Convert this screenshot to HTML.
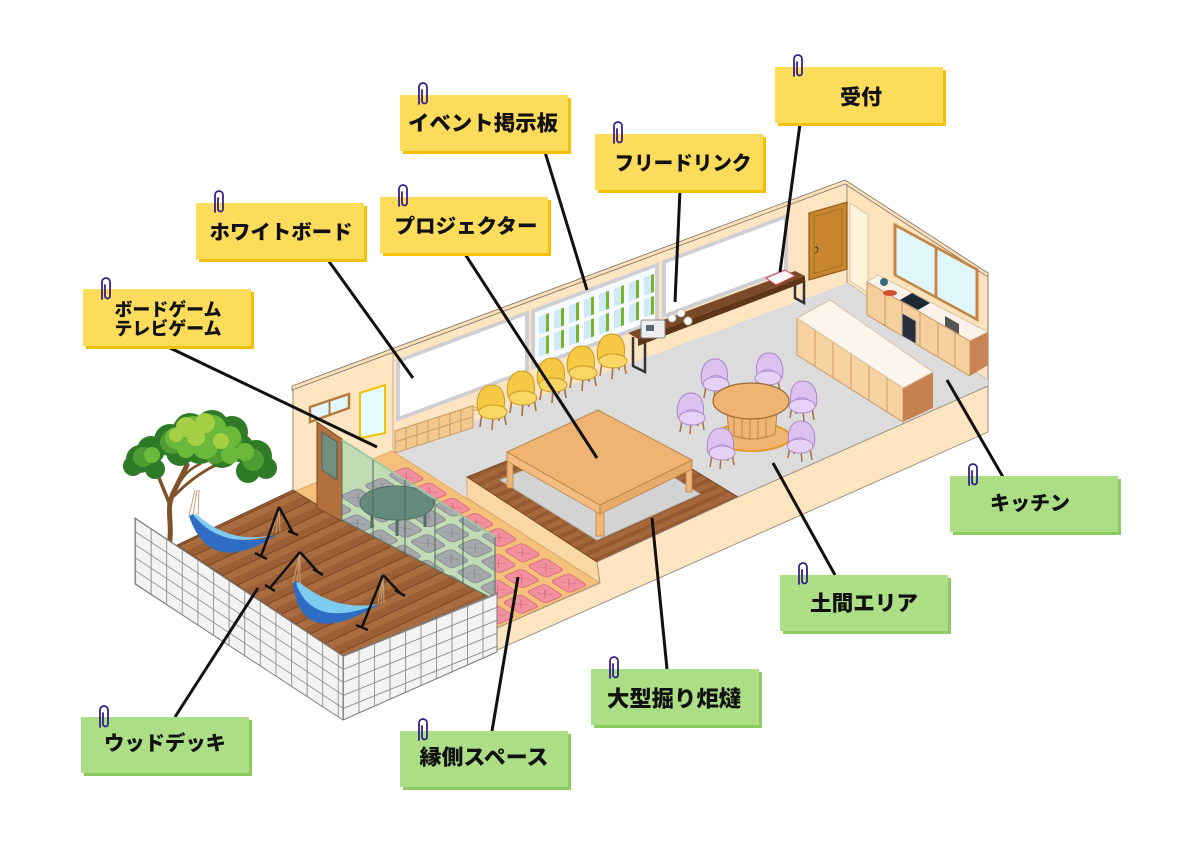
<!DOCTYPE html>
<html><head><meta charset="utf-8">
<style>
html,body{margin:0;padding:0;background:#fff;}
svg{display:block;}
text{font-family:"Liberation Sans","Noto Sans CJK JP",sans-serif;font-weight:900;fill:#111;}
</style></head><body>
<svg width="1200" height="845" viewBox="0 0 1200 845" xmlns="http://www.w3.org/2000/svg">
<defs>
<pattern id="deckP" patternUnits="userSpaceOnUse" width="300" height="15" patternTransform="rotate(-25)">
<rect width="300" height="15" fill="#a96c3e"/><rect y="8" width="300" height="7" fill="#9c5f35"/><rect width="300" height="1" fill="#7a4524"/>
</pattern>
<pattern id="woodP" patternUnits="userSpaceOnUse" width="300" height="9" patternTransform="rotate(-24)">
<rect width="300" height="9" fill="#a5683b"/><rect y="5" width="300" height="4" fill="#955a31"/>
</pattern>
<pattern id="gridL" patternUnits="userSpaceOnUse" width="15.6" height="13" patternTransform="translate(135,518) skewY(33.5)">
<rect width="15.6" height="13" fill="#f3f3f3"/><path d="M0 0.5H15.6M0.5 0V13" stroke="#8d8d8d" stroke-width="0.9"/>
</pattern>
<pattern id="gridR" patternUnits="userSpaceOnUse" width="15.5" height="13" patternTransform="translate(343,656) skewY(-22)">
<rect width="15.5" height="13" fill="#f3f3f3"/><path d="M0 0.5H15.5M0.5 0V13" stroke="#8d8d8d" stroke-width="0.9"/>
</pattern>
<clipPath id="glassClip"><polygon points="342,440 495,537 495,600 342,520"/></clipPath>
<g id="cushions">
<rect x="3" y="3" width="18" height="18" rx="3"/><rect x="3" y="26" width="18" height="18" rx="3"/><rect x="3" y="49" width="18" height="18" rx="3"/><rect x="3" y="72" width="18" height="18" rx="3"/><rect x="3" y="95" width="18" height="18" rx="3"/><rect x="3" y="118" width="18" height="18" rx="3"/><rect x="3" y="141" width="18" height="18" rx="3"/><rect x="3" y="164" width="18" height="18" rx="3"/>
<rect x="27" y="3" width="18" height="18" rx="3"/><rect x="27" y="26" width="18" height="18" rx="3"/><rect x="27" y="49" width="18" height="18" rx="3"/><rect x="27" y="72" width="18" height="18" rx="3"/><rect x="27" y="95" width="18" height="18" rx="3"/><rect x="27" y="118" width="18" height="18" rx="3"/><rect x="27" y="141" width="18" height="18" rx="3"/><rect x="27" y="164" width="18" height="18" rx="3"/>
<rect x="51" y="3" width="18" height="18" rx="3"/><rect x="51" y="26" width="18" height="18" rx="3"/><rect x="51" y="49" width="18" height="18" rx="3"/><rect x="51" y="72" width="18" height="18" rx="3"/><rect x="51" y="95" width="18" height="18" rx="3"/><rect x="51" y="118" width="18" height="18" rx="3"/><rect x="51" y="141" width="18" height="18" rx="3"/><rect x="51" y="164" width="18" height="18" rx="3"/>
<rect x="75" y="3" width="18" height="18" rx="3"/><rect x="75" y="26" width="18" height="18" rx="3"/><rect x="75" y="49" width="18" height="18" rx="3"/><rect x="75" y="72" width="18" height="18" rx="3"/><rect x="75" y="95" width="18" height="18" rx="3"/><rect x="75" y="118" width="18" height="18" rx="3"/><rect x="75" y="141" width="18" height="18" rx="3"/><rect x="75" y="164" width="18" height="18" rx="3"/>
<path fill="none" stroke-width="0.8" d="M8 8l8 8m0-8l-8 8M8 31l8 8m0-8l-8 8M8 54l8 8m0-8l-8 8M8 77l8 8m0-8l-8 8M8 100l8 8m0-8l-8 8M8 123l8 8m0-8l-8 8M8 146l8 8m0-8l-8 8M8 169l8 8m0-8l-8 8M32 8l8 8m0-8l-8 8M32 31l8 8m0-8l-8 8M32 54l8 8m0-8l-8 8M32 77l8 8m0-8l-8 8M32 100l8 8m0-8l-8 8M32 123l8 8m0-8l-8 8M32 146l8 8m0-8l-8 8M32 169l8 8m0-8l-8 8M56 8l8 8m0-8l-8 8M56 31l8 8m0-8l-8 8M56 54l8 8m0-8l-8 8M56 77l8 8m0-8l-8 8M56 100l8 8m0-8l-8 8M56 123l8 8m0-8l-8 8M56 146l8 8m0-8l-8 8M56 169l8 8m0-8l-8 8M80 8l8 8m0-8l-8 8M80 31l8 8m0-8l-8 8M80 54l8 8m0-8l-8 8M80 77l8 8m0-8l-8 8M80 100l8 8m0-8l-8 8M80 123l8 8m0-8l-8 8M80 146l8 8m0-8l-8 8M80 169l8 8m0-8l-8 8"/>
</g>
<g id="yc">
<path d="M-11 8L-13 22M11 7L13 20M0 11L-1 25M5 4L6 16" stroke="#a8713f" stroke-width="1.6" fill="none"/>
<path d="M-15 6C-18 -8 -12 -20 -1 -20C9 -20 13 -10 11 3Z" fill="#f6c944" stroke="#c99a26"/>
<ellipse cx="0" cy="7" rx="14" ry="7" fill="#f9d764" stroke="#c99a26"/>
</g>
<g id="pc">
<path d="M-10 8L-12 20M10 6L12 18M-1 10L-2 22M5 4L6 14" stroke="#a7703f" stroke-width="1.5" fill="none"/>
<path d="M-14 6C-17 -8 -11 -19 -1 -19C9 -19 13 -9 11 3Z" fill="#dcc1f1" stroke="#a988c8"/>
<ellipse cx="0" cy="6" rx="13" ry="7" fill="#e6d2f7" stroke="#a988c8"/>
<path d="M-8 1Q-2 -5 6 -1" stroke="#b99ad8" fill="none"/>
</g>
<g id="pclip"><path d="M-4 21V4A4 4 0 0 1 4 4V18A2.5 2.5 0 0 1 -1 18V7" stroke="#35208a" stroke-width="1.8" fill="none" stroke-linecap="round"/></g>
</defs>

<!-- back wall & right wall -->
<polygon points="292,390 845,184 848,284 392,452 300,492 292,492" fill="#fde5c2"/>
<polygon points="845,184 988,277 988,380 848,283" fill="#fde3bd"/>
<g transform="translate(850,203) skewY(33)"><rect width="18" height="78" fill="#fff3da" stroke="#c9b89a" stroke-width="0.8"/></g>
<polygon points="292,386 845,180 988,273 988,277 845,184 292,390" fill="#fbe1b9" stroke="#857a6e" stroke-width="0.9"/>
<line x1="293" y1="390" x2="293" y2="492" stroke="#9b8f80" stroke-width="1"/>
<line x1="393" y1="353" x2="393" y2="450" stroke="#c9b08c" stroke-width="1"/>
<line x1="847" y1="184" x2="847" y2="283" stroke="#9b8f80" stroke-width="1"/>
<line x1="988" y1="277" x2="988" y2="432" stroke="#857a6e" stroke-width="1"/>

<!-- wall panels -->
<g transform="translate(398,361) skewY(-20.43)"><rect width="129" height="58" fill="#ffffff" stroke="#cfcfd3" stroke-width="4"/></g>
<g transform="translate(533,311) skewY(-20.43)"><rect width="124" height="56" fill="#f6fbfe" stroke="#cfcfd3" stroke-width="4"/>
<g fill="#cfe9f8">
<rect x="6" y="8" width="9" height="18"/><rect x="21" y="8" width="9" height="18"/><rect x="36" y="8" width="9" height="18"/><rect x="51" y="8" width="9" height="18"/><rect x="66" y="8" width="9" height="18"/><rect x="81" y="8" width="9" height="18"/><rect x="96" y="8" width="9" height="18"/><rect x="111" y="8" width="9" height="18"/>
<rect x="6" y="30" width="9" height="18"/><rect x="21" y="30" width="9" height="18"/><rect x="36" y="30" width="9" height="18"/><rect x="51" y="30" width="9" height="18"/><rect x="66" y="30" width="9" height="18"/><rect x="81" y="30" width="9" height="18"/><rect x="96" y="30" width="9" height="18"/><rect x="111" y="30" width="9" height="18"/>
</g>
<g fill="#79b32e">
<rect x="13" y="8" width="3" height="18"/><rect x="28" y="8" width="3" height="18"/><rect x="43" y="8" width="3" height="18"/><rect x="58" y="8" width="3" height="18"/><rect x="73" y="8" width="3" height="18"/><rect x="88" y="8" width="3" height="18"/><rect x="103" y="8" width="3" height="18"/><rect x="118" y="8" width="3" height="18"/>
<rect x="13" y="30" width="3" height="18"/><rect x="28" y="30" width="3" height="18"/><rect x="43" y="30" width="3" height="18"/><rect x="58" y="30" width="3" height="18"/><rect x="73" y="30" width="3" height="18"/><rect x="88" y="30" width="3" height="18"/><rect x="103" y="30" width="3" height="18"/><rect x="118" y="30" width="3" height="18"/>
</g></g>
<g transform="translate(664,262) skewY(-20.43)"><rect width="122" height="54" fill="#ffffff" stroke="#cfcfd3" stroke-width="4"/></g>

<!-- back door -->
<g transform="translate(809,213) skewY(-16)"><rect width="38" height="67" fill="#c9862f" stroke="#8c5a1c" stroke-width="1.2"/><rect x="5" y="5" width="28" height="57" fill="none" stroke="#a86c22" stroke-width="1"/><path d="M6 36a3 3 0 0 1 0 6" stroke="#6a4010" fill="none" stroke-width="1.2"/></g>
<!-- kitchen window -->
<g transform="translate(895,225) skewY(28.5)"><rect width="82" height="50" fill="#dff7fa" stroke="#c28745" stroke-width="3"/><line x1="41" y1="0" x2="41" y2="50" stroke="#c28745" stroke-width="3"/></g>

<!-- floor -->
<polygon points="392,451 848,283 988,380 988,386 597,562 467,497" fill="#dcdcdc"/>
<line x1="848" y1="283" x2="988" y2="380" stroke="#c8c2b6" stroke-width="1"/>

<!-- engawa -->
<polygon points="293,492 392,451 600,582 497,628" fill="#f5c07a" stroke="#d9a461" stroke-width="0.8"/>
<use href="#cushions" transform="matrix(1,-0.44,-1.01,-0.66,497,628)" fill="#f1919e" stroke="#dc6f80" stroke-width="1"/>

<!-- horigotatsu platform -->
<polygon points="467,477 597,562 600,583 467,498" fill="#fbd7a3" stroke="#c9a06a" stroke-width="0.8"/>
<polygon points="467,477 610,419 738,497 597,562" fill="url(#woodP)" stroke="#6d3f1e" stroke-width="0.8"/>
<polygon points="500,480 608,436 700,494 597,540" fill="#d3d3d3" stroke="#b5b5b5"/>
<rect x="507" y="455" width="6" height="33" fill="#efb676" stroke="#b9864c" stroke-width="0.8"/>
<rect x="596" y="506" width="8" height="30" fill="#efb676" stroke="#b9864c" stroke-width="0.8"/>
<rect x="686" y="462" width="6" height="30" fill="#efb676" stroke="#b9864c" stroke-width="0.8"/>
<polygon points="507,452 600,505 600,514 507,461" fill="#f3bd80" stroke="#b9864c" stroke-width="0.8"/>
<polygon points="600,505 692,460 692,469 600,514" fill="#e7aa68" stroke="#b9864c" stroke-width="0.8"/>
<polygon points="507,452 598,410 692,460 600,505" fill="#f0b472" stroke="#b9864c" stroke-width="1"/>

<!-- shelf -->
<polygon points="395,431 473,406 479,409 401,434" fill="#f7d7a6" stroke="#c9985c" stroke-width="0.8"/>
<g transform="translate(395,431) skewY(-18)"><rect width="78" height="22" fill="#f3c98e" stroke="#c9985c" stroke-width="1"/><path d="M11 0V22M22 0V22M33 0V22M44 0V22M55 0V22M66 0V22M0 11H78" stroke="#c9985c" stroke-width="0.9"/></g>

<!-- yellow chairs -->
<use href="#yc" x="493" y="405"/><use href="#yc" x="523" y="391"/><use href="#yc" x="553" y="378"/><use href="#yc" x="583" y="366"/><use href="#yc" x="613" y="354"/>

<!-- reception -->
<path d="M633 337V366L645 372V343" stroke="#333" stroke-width="2.5" fill="none"/>
<path d="M795 275V298L804 303V280" stroke="#333" stroke-width="2.5" fill="none"/>
<polygon points="628,333 795,271 805,276 638,339" fill="#7b4a28"/>
<polygon points="638,339 805,276 805,282 638,346" fill="#5e3519"/>
<rect x="641" y="320" width="24" height="18" rx="2" fill="#eeeeee" stroke="#8a8a8a"/><rect x="646" y="325" width="8" height="6" fill="#567"/>
<circle cx="672" cy="318" r="4" fill="#fafafa" stroke="#bbb"/><circle cx="681" cy="313" r="4" fill="#fafafa" stroke="#bbb"/><circle cx="688" cy="321" r="4" fill="#fafafa" stroke="#bbb"/>
<polygon points="766,278 785,270 795,276 776,285" fill="#fff" stroke="#d04050"/>

<!-- kitchen counter -->
<polygon points="867,282 878,275 988,332 970,341" fill="#fbf3ea" stroke="#d7c4a8"/>
<polygon points="867,282 970,341 970,376 867,315" fill="#f5cf9c" stroke="#c9965e"/>
<polygon points="970,341 988,332 988,365 970,376" fill="#c98455"/>
<path d="M885 292V326M902 302V336M920 312V346M938 323V357M955 332V367" stroke="#c9965e" stroke-width="0.9"/>
<polygon points="900,300 912,293 930,303 918,310" fill="#1e2a33"/>
<polygon points="902,313 916,321 916,344 902,336" fill="#2b2d3a" stroke="#bbb"/>
<ellipse cx="890" cy="293" rx="7" ry="3" fill="#d05030"/><circle cx="884" cy="282" r="4" fill="#3a6a80"/>
<polygon points="945,316 959,324 959,334 945,326" fill="#555"/>

<!-- island -->
<polygon points="797,318 903,388 903,422 797,355" fill="#f6d3a0" stroke="#c99a64"/>
<path d="M815 330V366M833 342V378M851 354V389M869 366V400M887 377V412" stroke="#c99a64" stroke-width="0.9"/>
<polygon points="903,388 933,372 933,408 903,422" fill="#c8804f"/>
<polygon points="797,318 830,300 933,372 903,388" fill="#fcf5ec" stroke="#d8c2a5"/>

<!-- round table & chairs -->
<use href="#pc" x="716" y="378"/>
<use href="#pc" transform="translate(768,372) scale(-1,1)"/>
<use href="#pc" x="692" y="412"/>
<use href="#pc" transform="translate(802,400) scale(-1,1)"/>
<ellipse cx="752" cy="437" rx="38" ry="14" fill="#f0b472" stroke="#e59a2a" stroke-width="2"/>
<path d="M726 403L729 434Q752 444 775 434L778 403Z" fill="#f0b472" stroke="#b9864c"/>
<path d="M734 410V436M742 412V439M750 412V440M758 412V440M766 411V438" stroke="#b9864c" stroke-width="0.9"/>
<ellipse cx="751" cy="401" rx="38" ry="18" fill="#f0b472" stroke="#9c6a36" stroke-width="1.2"/>
<use href="#pc" x="722" y="447"/>
<use href="#pc" transform="translate(800,440) scale(-1,1)"/>

<!-- front face -->
<polygon points="497,628 600,583 597,562 738,497 988,386 988,432 497,650" fill="#fde5c1" stroke="#958a7c" stroke-width="0.9"/>

<!-- left wall items -->
<polygon points="310,407 349,394 349,408 310,422" fill="#e2f7fb" stroke="#b57a3e" stroke-width="2.5"/>
<line x1="329.5" y1="400.5" x2="329.5" y2="415" stroke="#b57a3e" stroke-width="2"/>
<polygon points="360,393 385,385 385,433 360,438" fill="#e6fbff" stroke="#f0c400" stroke-width="2"/>

<!-- deck -->
<polygon points="177,545 293,490 342,520 497,600 497,593 343,656" fill="url(#deckP)" stroke="#6d3f1e" stroke-width="0.8"/>
<!-- left door -->
<polygon points="317,422 342,439 342,521 317,508" fill="#b3703e" stroke="#7c4a24"/>
<polygon points="322,432 337,442 337,480 322,470" fill="#6f8f81" stroke="#4d5f55"/>

<!-- glass partition -->
<g clip-path="url(#glassClip)">
<rect x="330" y="430" width="180" height="180" fill="#c1dcb4"/>
<use href="#cushions" transform="matrix(1,-0.44,-1.01,-0.66,497,628)" fill="#a4a8ab" stroke="#8a8e92" stroke-width="1"/>
<path d="M372 510V528M397 518V536M425 510V527" stroke="#4f7064" stroke-width="3"/>
<ellipse cx="397" cy="503" rx="37" ry="17" fill="#648a7e" stroke="#4f7064"/>
</g>
<polygon points="342,440 495,537 495,600 342,520" fill="none" stroke="#55725f" stroke-width="1"/>
<line x1="342" y1="440" x2="495" y2="537" stroke="#9cc7a4" stroke-width="2"/>
<path d="M373 460V536M405 480V553M435 499V569M463 517V583" stroke="#4f6b5b" stroke-width="1"/>

<!-- tree -->
<g stroke="#7e5127" fill="none" stroke-linecap="round">
<path d="M169,546C173,525 166,510 172,496C176,486 182,476 187,465" stroke-width="5"/>
<path d="M170,505C164,490 158,476 153,462" stroke-width="3.5"/>
<path d="M174,496C186,484 196,476 210,468C222,462 232,458 240,456" stroke-width="3"/>
<path d="M180,482C186,472 192,468 200,464" stroke-width="2.5"/>
</g>
<g fill="#2f7a26">
<circle cx="140" cy="459" r="14"/><circle cx="133" cy="466" r="10"/><circle cx="151" cy="450" r="14"/><circle cx="155" cy="469" r="10"/>
<circle cx="256" cy="456" r="16"/><circle cx="266" cy="468" r="11"/><circle cx="248" cy="471" r="12"/><circle cx="240" cy="448" r="14"/>
<circle cx="170" cy="440" r="16"/><circle cx="190" cy="430" r="17"/><circle cx="212" cy="427" r="17"/><circle cx="232" cy="432" r="16"/><circle cx="200" cy="446" r="18"/><circle cx="180" cy="452" r="14"/><circle cx="222" cy="452" r="16"/>
</g>
<g fill="#4f9d32">
<circle cx="143" cy="457" r="10"/><circle cx="253" cy="460" r="11"/><circle cx="172" cy="442" r="12"/><circle cx="230" cy="440" r="12"/><circle cx="215" cy="452" r="12"/>
</g>
<g fill="#6cb83a">
<circle cx="176" cy="438" r="11"/><circle cx="193" cy="429" r="13"/><circle cx="213" cy="428" r="13"/><circle cx="230" cy="437" r="11"/><circle cx="205" cy="446" r="13"/><circle cx="186" cy="449" r="9"/><circle cx="245" cy="452" r="9"/><circle cx="152" cy="455" r="8"/><circle cx="230" cy="455" r="9"/>
</g>
<g fill="#a5cf45">
<circle cx="186" cy="427" r="10"/><circle cx="205" cy="423" r="10"/><circle cx="196" cy="437" r="9"/><circle cx="221" cy="441" r="8"/><circle cx="176" cy="435" r="7"/>
</g>

<!-- hammocks -->
<path d="M195,490L189,516M197,490L193,516M199,490L198,515" stroke="#c9a07a" stroke-width="1"/>
<path d="M279,507L272,532M279,507L276,533M279,507L280,532" stroke="#c9a07a" stroke-width="1"/>
<path d="M189,516Q210,578 277,535Q228,552 193,514Z" fill="#2f6cc4"/>
<path d="M193,515Q224,552 275,534Q232,546 196,514Z" fill="#7dcbef"/>
<path d="M279,507L261,556M279,507L293,533M255,553L267,559M288,531L298,535" stroke="#111" stroke-width="2.5" fill="none"/>
<path d="M300,552L293,583M300,552L297,584M300,552L300,583" stroke="#c9a07a" stroke-width="1"/>
<path d="M383,575L378,603M383,575L381,604M383,575L384,603" stroke="#c9a07a" stroke-width="1"/>
<path d="M293,583Q300,652 380,604Q335,618 297,581Z" fill="#2f6cc4"/>
<path d="M296,583Q312,630 378,604Q336,612 299,582Z" fill="#7dcbef"/>
<path d="M300,552L270,588M300,552L318,572M265,585L275,591M313,569L323,575" stroke="#111" stroke-width="2.5" fill="none"/>
<path d="M383,575L362,627M383,575L400,593M356,625L368,630M395,590L405,596" stroke="#111" stroke-width="2.5" fill="none"/>

<!-- fence -->
<polygon points="135,518 343,656 343,720 135,584" fill="url(#gridL)" stroke="#7a7a7a" stroke-width="1"/>
<polygon points="343,656 497,593 497,652 343,720" fill="url(#gridR)" stroke="#7a7a7a" stroke-width="1"/>

<!-- leader lines -->
<g stroke="#111" stroke-width="3" fill="none">
<line x1="545" y1="152" x2="587" y2="290"/>
<line x1="800" y1="124" x2="780" y2="272"/>
<line x1="680" y1="190" x2="675" y2="302"/>
<line x1="328" y1="260" x2="413" y2="378"/>
<line x1="465" y1="254" x2="597" y2="458"/>
<line x1="168" y1="347" x2="377" y2="447"/>
<line x1="947" y1="380" x2="1003" y2="477"/>
<line x1="773" y1="463" x2="835" y2="575"/>
<line x1="652" y1="518" x2="667" y2="669"/>
<line x1="518" y1="577" x2="492" y2="731"/>
<line x1="258" y1="588" x2="175" y2="717"/>
</g>

<!-- yellow labels -->
<g>
<rect x="403" y="98" width="168" height="56" fill="#f2c100"/><rect x="400" y="95" width="168" height="56" fill="#fddc5b"/>
<use href="#pclip" x="423" y="83"/>
<text x="483" y="124" font-size="21" text-anchor="middle" dominant-baseline="central" textLength="150" lengthAdjust="spacingAndGlyphs">イベント掲示板</text>

<rect x="778" y="70" width="168" height="56" fill="#f2c100"/><rect x="775" y="67" width="168" height="56" fill="#fddc5b"/>
<use href="#pclip" x="798" y="55"/>
<text x="861" y="98" font-size="21" text-anchor="middle" dominant-baseline="central" textLength="42" lengthAdjust="spacingAndGlyphs">受付</text>

<rect x="598" y="137" width="168" height="56" fill="#f2c100"/><rect x="595" y="134" width="168" height="56" fill="#fddc5b"/>
<use href="#pclip" x="618" y="122"/>
<text x="683" y="164" font-size="20" text-anchor="middle" dominant-baseline="central" textLength="137" lengthAdjust="spacingAndGlyphs">フリードリンク</text>

<rect x="199" y="206" width="168" height="56" fill="#f2c100"/><rect x="196" y="203" width="168" height="56" fill="#fddc5b"/>
<use href="#pclip" x="219" y="191"/>
<text x="281" y="233" font-size="20" text-anchor="middle" dominant-baseline="central" textLength="143" lengthAdjust="spacingAndGlyphs">ホワイトボード</text>

<rect x="383" y="200" width="168" height="56" fill="#f2c100"/><rect x="380" y="197" width="168" height="56" fill="#fddc5b"/>
<use href="#pclip" x="403" y="185"/>
<text x="466" y="227" font-size="20" text-anchor="middle" dominant-baseline="central" textLength="143" lengthAdjust="spacingAndGlyphs">プロジェクター</text>

<rect x="86" y="292" width="168" height="57" fill="#f2c100"/><rect x="83" y="289" width="168" height="57" fill="#fddc5b"/>
<use href="#pclip" x="106" y="278"/>
<text x="168" y="310" font-size="18" text-anchor="middle" dominant-baseline="central" textLength="107" lengthAdjust="spacingAndGlyphs">ボードゲーム</text>
<text x="168" y="329" font-size="18" text-anchor="middle" dominant-baseline="central" textLength="107" lengthAdjust="spacingAndGlyphs">テレビゲーム</text>
</g>

<!-- green labels -->
<g>
<rect x="953" y="479" width="168" height="56" fill="#8bcb5f"/><rect x="950" y="476" width="168" height="56" fill="#acde85"/>
<use href="#pclip" x="973" y="464"/>
<text x="1030" y="504" font-size="20" text-anchor="middle" dominant-baseline="central" textLength="80" lengthAdjust="spacingAndGlyphs">キッチン</text>

<rect x="783" y="578" width="168" height="56" fill="#8bcb5f"/><rect x="780" y="575" width="168" height="56" fill="#acde85"/>
<use href="#pclip" x="803" y="563"/>
<text x="864" y="604" font-size="21" text-anchor="middle" dominant-baseline="central" textLength="108" lengthAdjust="spacingAndGlyphs">土間エリア</text>

<rect x="594" y="672" width="168" height="56" fill="#8bcb5f"/><rect x="591" y="669" width="168" height="56" fill="#acde85"/>
<use href="#pclip" x="614" y="657"/>
<text x="674" y="699" font-size="22" text-anchor="middle" dominant-baseline="central" textLength="134" lengthAdjust="spacingAndGlyphs">大型掘り炬燵</text>

<rect x="84" y="720" width="168" height="56" fill="#8bcb5f"/><rect x="81" y="717" width="168" height="56" fill="#acde85"/>
<use href="#pclip" x="104" y="706"/>
<text x="165" y="744" font-size="20" text-anchor="middle" dominant-baseline="central" textLength="122" lengthAdjust="spacingAndGlyphs">ウッドデッキ</text>

<rect x="403" y="734" width="168" height="56" fill="#8bcb5f"/><rect x="400" y="731" width="168" height="56" fill="#acde85"/>
<use href="#pclip" x="423" y="719"/>
<text x="484" y="758" font-size="21" text-anchor="middle" dominant-baseline="central" textLength="129" lengthAdjust="spacingAndGlyphs">縁側スペース</text>
</g>
</svg>
</body></html>
